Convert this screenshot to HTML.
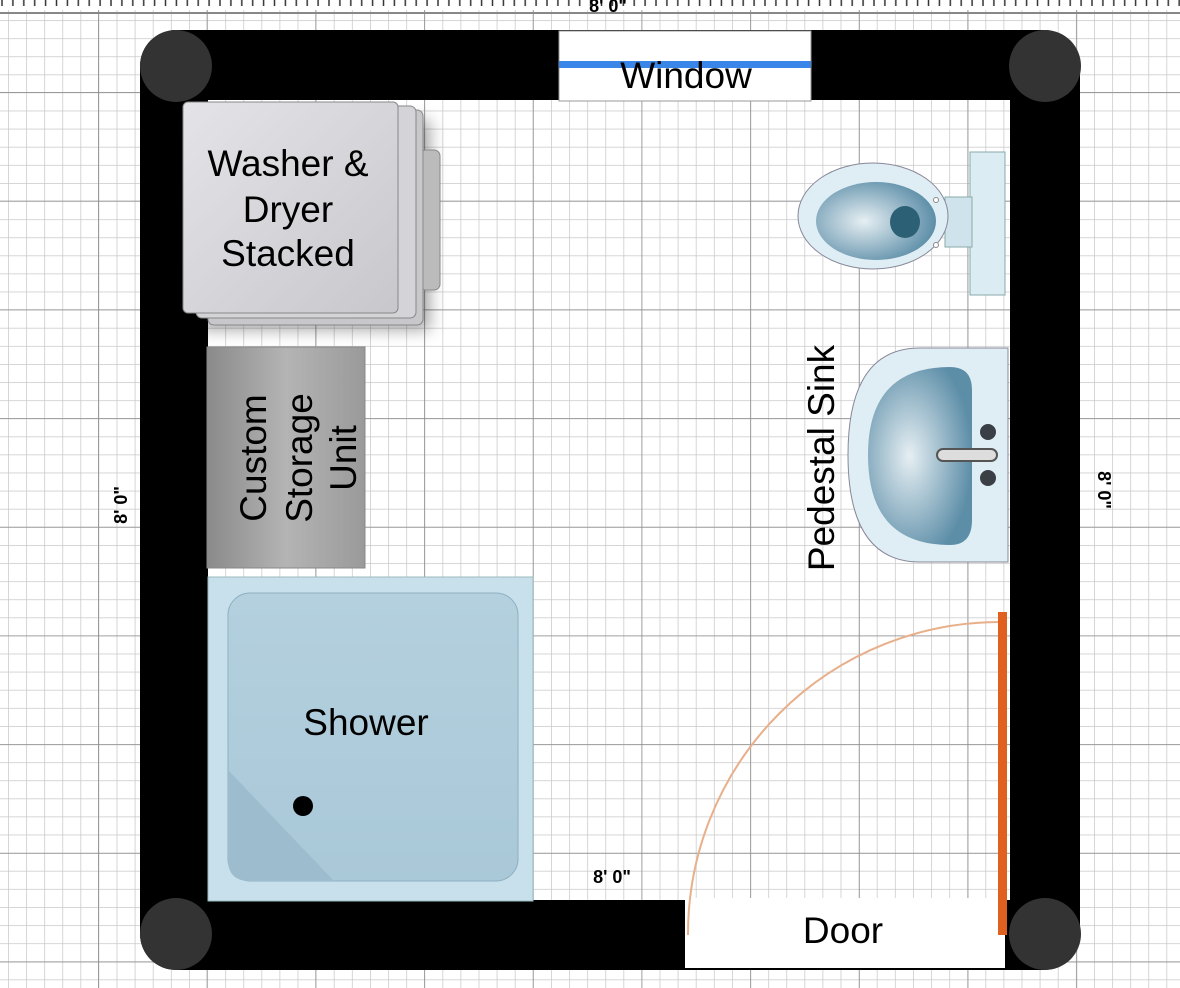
<!DOCTYPE html>
<html><head><meta charset="utf-8"><style>
body{margin:0;width:1180px;height:988px;overflow:hidden;background:#fff}
svg{display:block}
text{font-family:"Liberation Sans",sans-serif}
</style></head><body>
<svg width="1180" height="988" viewBox="0 0 1180 988" xmlns="http://www.w3.org/2000/svg">
<defs>
<pattern id="minor" x="8" y="2" width="18.1" height="18.1" patternUnits="userSpaceOnUse">
<path d="M0 0V18.1M0 0H18.1" stroke="#c8c8c8" stroke-width="1.5" fill="none"/>
</pattern>
<pattern id="major" x="98" y="92" width="108.7" height="108.7" patternUnits="userSpaceOnUse">
<path d="M0 0V108.7M0 0H108.7" stroke="#8a8a8a" stroke-width="1.5" fill="none"/>
</pattern>
<pattern id="tick" x="0" y="0" width="10.9" height="8" patternUnits="userSpaceOnUse">
<path d="M2 0V6" stroke="#333" stroke-width="1.5"/>
</pattern>
<linearGradient id="wash" x1="0" y1="0" x2="1" y2="1"><stop offset="0" stop-color="#e4e4e8"/><stop offset="1" stop-color="#c8c8cc"/></linearGradient>
<linearGradient id="stor" x1="0" y1="0" x2="1" y2="0"><stop offset="0" stop-color="#8a8a8a"/><stop offset=".5" stop-color="#b4b4b4"/><stop offset="1" stop-color="#9a9a9a"/></linearGradient>
<radialGradient id="bowl" cx=".4" cy=".5" r=".6"><stop offset="0" stop-color="#e6eff3"/><stop offset="1" stop-color="#5d8ea8"/></radialGradient>
<linearGradient id="show" x1="0" y1="0" x2="0" y2="1"><stop offset="0" stop-color="#b4d0de"/><stop offset="1" stop-color="#a9c8d8"/></linearGradient>
<filter id="sh" x="-20%" y="-20%" width="150%" height="150%"><feGaussianBlur stdDeviation="8"/></filter>
</defs>
<rect width="1180" height="988" fill="url(#minor)"/>
<rect width="1180" height="988" fill="url(#major)"/>
<rect x="0" y="0" width="1180" height="10" fill="#fff"/>
<rect x="0" y="0" width="1180" height="7" fill="url(#tick)"/>
<line x1="0" y1="13" x2="1180" y2="13" stroke="#888" stroke-width="2"/>
<rect x="140" y="30" width="940" height="940" rx="36" fill="#000"/>
<rect x="208" y="100" width="802" height="800" fill="#fff"/>
<rect x="208" y="100" width="802" height="800" fill="url(#minor)"/>
<rect x="208" y="100" width="802" height="800" fill="url(#major)"/>
<circle cx="176" cy="66" r="36" fill="#333"/>
<circle cx="1045" cy="66" r="36" fill="#333"/>
<circle cx="176" cy="934" r="36" fill="#333"/>
<circle cx="1045" cy="934" r="36" fill="#333"/>
<rect x="559" y="31" width="252" height="70" fill="#fff" stroke="#999"/>
<rect x="559" y="61" width="252" height="7" fill="#3a86e8"/>
<text x="686" y="88" font-size="37" text-anchor="middle">Window</text>
<rect x="200" y="120" width="230" height="210" fill="#000" opacity=".35" filter="url(#sh)"/>
<rect x="420" y="150" width="20" height="140" rx="6" fill="#bbb" stroke="#888"/>
<rect x="208" y="110" width="215" height="215" rx="6" fill="#c8c8cc" stroke="#888"/>
<rect x="196" y="106" width="220" height="212" rx="6" fill="#d4d4d8" stroke="#888"/>
<rect x="183" y="102" width="215" height="211" rx="5" fill="url(#wash)" stroke="#888"/>
<text font-size="37" text-anchor="middle"><tspan x="288" y="176">Washer &amp;</tspan><tspan x="288" y="222">Dryer</tspan><tspan x="288" y="266">Stacked</tspan></text>
<rect x="207" y="347" width="158" height="221" fill="url(#stor)" stroke="#888"/>
<text font-size="37" text-anchor="middle" transform="translate(286,458) rotate(-90)"><tspan x="0" y="-20">Custom</tspan><tspan x="0" y="26">Storage</tspan><tspan x="0" y="70">Unit</tspan></text>
<rect x="208" y="577" width="325" height="324" fill="#c8e0ec" stroke="#9bb"/>
<rect x="228" y="593" width="290" height="288" rx="22" fill="url(#show)" stroke="#8fb0c2"/>
<path d="M228 770 L334 881 L250 881 Q228 881 228 860Z" fill="#9dbccd"/>
<circle cx="303" cy="806" r="10" fill="#000"/>
<text x="366" y="735" font-size="37" text-anchor="middle">Shower</text>
<rect x="970" y="152" width="35" height="143" fill="#dcecf3" stroke="#8aa"/>
<rect x="945" y="197" width="27" height="50" fill="#cfe3ec" stroke="#8aa"/>
<ellipse cx="873" cy="216" rx="75" ry="53" fill="#dfeef4" stroke="#889"/>
<ellipse cx="876" cy="221" rx="60" ry="39" fill="url(#bowl)"/>
<ellipse cx="905" cy="222" rx="15" ry="16" fill="#2c6075"/>
<circle cx="936" cy="200" r="2.5" fill="#fff" stroke="#888"/>
<circle cx="936" cy="245" r="2.5" fill="#fff" stroke="#888"/>
<path d="M1008 348 H920 Q848 348 848 455 Q848 562 920 562 H1008Z" fill="#dfeef4" stroke="#889"/>
<path d="M950 367 Q868 367 868 455 Q868 545 950 545 Q972 545 972 520 V390 Q972 367 950 367Z" fill="url(#bowl)"/>
<rect x="937" y="449" width="60" height="12" rx="6" fill="#ddd" stroke="#555" stroke-width="2"/>
<circle cx="988" cy="432" r="8" fill="#3a3f45"/>
<circle cx="988" cy="478" r="8" fill="#3a3f45"/>
<text font-size="37" text-anchor="middle" transform="translate(834,458) rotate(-90)">Pedestal Sink</text>
<rect x="685" y="898" width="320" height="70" fill="#fff"/>
<text x="843" y="943" font-size="37" text-anchor="middle">Door</text>
<path d="M688 935 A312 312 0 0 1 1000 622" fill="none" stroke="#e8b08a" stroke-width="2"/>
<rect x="998" y="612" width="9" height="323" fill="#e06020"/>
<text x="612" y="883" font-size="18" font-weight="bold" text-anchor="middle">8' 0"</text>
<text font-size="18" font-weight="bold" text-anchor="middle" transform="translate(127,505) rotate(-90)">8' 0"</text>
<text font-size="18" font-weight="bold" text-anchor="middle" transform="translate(1098,490) rotate(90)">8' 0"</text>
<text x="608" y="12" font-size="18" font-weight="bold" text-anchor="middle">8' 0"</text>
</svg>
</body></html>
